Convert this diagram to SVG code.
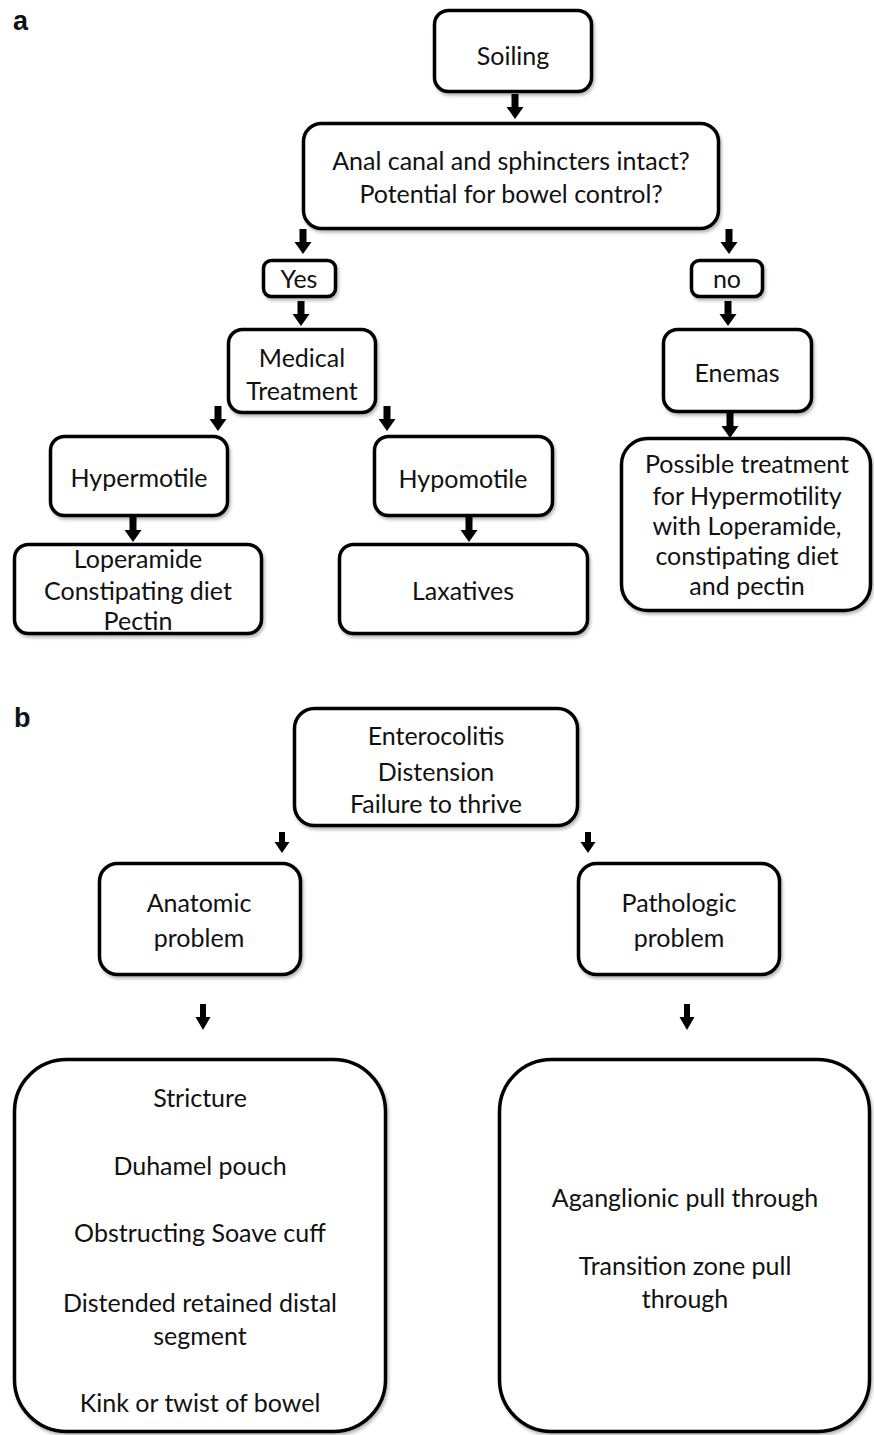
<svg xmlns="http://www.w3.org/2000/svg" xmlns:xlink="http://www.w3.org/1999/xlink" width="874" height="1435" viewBox="0 0 874 1435">
  <style>
    .box { fill: #ffffff; stroke: #000000; stroke-width: 3.5; filter: url(#sh); }
    .t { font-family: Lato, "Open Sans", "Liberation Sans", sans-serif; font-size: 25px; fill: #111111; text-anchor: middle; }
    .lbl { font-family: "Liberation Sans", Arial, sans-serif; font-weight: bold; font-size: 27px; fill: #111111; }
    .arr { fill: #000000; }
  </style>
  <defs>
    <filter id="sh" x="-10%" y="-10%" width="125%" height="130%">
      <feDropShadow dx="1.5" dy="2.5" stdDeviation="1.8" flood-color="#000000" flood-opacity="0.28"/>
    </filter>
    <path id="arrA" d="M-3.5,0 H3.5 V13 H8.5 L0,25 L-8.5,13 H-3.5 Z"/>
    <path id="arrB" d="M-3,0 H3 V10 H7.5 L0,21 L-7.5,10 H-3 Z"/>
    <path id="arrC" d="M-3,0 H3 V13 H7.5 L0,26 L-7.5,13 H-3 Z"/>
  </defs>
  <rect width="874" height="1435" fill="#ffffff"/>

  <text class="lbl" x="13" y="30">a</text>
  <text class="lbl" x="14" y="727">b</text>

  <g id="connectors" class="arr">
    <use xlink:href="#arrA" transform="translate(515,94)"/>
    <use xlink:href="#arrA" transform="translate(303,229)"/>
    <use xlink:href="#arrA" transform="translate(729,229)"/>
    <use xlink:href="#arrA" transform="translate(301,301)"/>
    <use xlink:href="#arrA" transform="translate(728,301)"/>
    <use xlink:href="#arrA" transform="translate(218,406)"/>
    <use xlink:href="#arrA" transform="translate(387,406)"/>
    <use xlink:href="#arrA" transform="translate(133,517)"/>
    <use xlink:href="#arrA" transform="translate(469,517)"/>
    <use xlink:href="#arrA" transform="translate(730,413)"/>
    <use xlink:href="#arrB" transform="translate(282,832)"/>
    <use xlink:href="#arrB" transform="translate(588,832)"/>
    <use xlink:href="#arrC" transform="translate(203,1004)"/>
    <use xlink:href="#arrC" transform="translate(687,1004)"/>
  </g>

  <g id="soiling">
    <rect class="box" x="434.5" y="10.5" width="157" height="81" rx="14"/>
    <text class="t" x="513" y="65">Soiling</text>
  </g>
  <g id="anal-canal">
    <rect class="box" x="303.5" y="123.5" width="415" height="105" rx="18"/>
    <text class="t" x="511" y="170">Anal canal and sphincters intact?</text>
    <text class="t" x="511" y="203">Potential for bowel control?</text>
  </g>
  <g id="yes">
    <rect class="box" x="263.5" y="260.5" width="72" height="36" rx="8"/>
    <text class="t" x="299" y="288">Yes</text>
  </g>
  <g id="no">
    <rect class="box" x="691.5" y="260.5" width="71" height="36" rx="8"/>
    <text class="t" x="727" y="288">no</text>
  </g>
  <g id="medical">
    <rect class="box" x="228.5" y="329.5" width="147" height="83" rx="14"/>
    <text class="t" x="302" y="367">Medical</text>
    <text class="t" x="302" y="400">Treatment</text>
  </g>
  <g id="enemas">
    <rect class="box" x="663.5" y="329.5" width="148" height="82" rx="14"/>
    <text class="t" x="737" y="382">Enemas</text>
  </g>
  <g id="hypermotile">
    <rect class="box" x="50.5" y="436.5" width="177" height="79" rx="14"/>
    <text class="t" x="139" y="487">Hypermotile</text>
  </g>
  <g id="hypomotile">
    <rect class="box" x="374.5" y="436.5" width="178" height="79" rx="14"/>
    <text class="t" x="463" y="488">Hypomotile</text>
  </g>
  <g id="loperamide">
    <rect class="box" x="14.5" y="544.5" width="247" height="89" rx="14"/>
    <text class="t" x="138" y="568">Loperamide</text>
    <text class="t" x="138" y="600">Constipating diet</text>
    <text class="t" x="138" y="630">Pectin</text>
  </g>
  <g id="laxatives">
    <rect class="box" x="339.5" y="544.5" width="248" height="89" rx="14"/>
    <text class="t" x="463" y="600">Laxatives</text>
  </g>
  <g id="possible-treatment">
    <rect class="box" x="621.5" y="438.5" width="249" height="172" rx="26"/>
    <text class="t" x="747" y="473">Possible treatment</text>
    <text class="t" x="747" y="505">for Hypermotility</text>
    <text class="t" x="747" y="535">with Loperamide,</text>
    <text class="t" x="747" y="565">constipating diet</text>
    <text class="t" x="747" y="595">and pectin</text>
  </g>

  <g id="enterocolitis">
    <rect class="box" x="294.5" y="708.5" width="283" height="117" rx="20"/>
    <text class="t" x="436" y="745">Enterocolitis</text>
    <text class="t" x="436" y="781">Distension</text>
    <text class="t" x="436" y="813">Failure to thrive</text>
  </g>
  <g id="anatomic">
    <rect class="box" x="99.5" y="863.5" width="201" height="111" rx="18"/>
    <text class="t" x="199" y="912">Anatomic</text>
    <text class="t" x="199" y="947">problem</text>
  </g>
  <g id="pathologic">
    <rect class="box" x="578.5" y="863.5" width="201" height="111" rx="18"/>
    <text class="t" x="679" y="912">Pathologic</text>
    <text class="t" x="679" y="947">problem</text>
  </g>
  <g id="anatomic-causes">
    <rect class="box" x="14.5" y="1059.5" width="371" height="372" rx="52"/>
    <text class="t" x="200" y="1107">Stricture</text>
    <text class="t" x="200" y="1175">Duhamel pouch</text>
    <text class="t" x="200" y="1242">Obstructing Soave cuff</text>
    <text class="t" x="200" y="1312">Distended retained distal</text>
    <text class="t" x="200" y="1345">segment</text>
    <text class="t" x="200" y="1412">Kink or twist of bowel</text>
  </g>
  <g id="pathologic-causes">
    <rect class="box" x="499.5" y="1059.5" width="370" height="372" rx="52"/>
    <text class="t" x="685" y="1207">Aganglionic pull through</text>
    <text class="t" x="685" y="1275">Transition zone pull</text>
    <text class="t" x="685" y="1308">through</text>
  </g>
</svg>
